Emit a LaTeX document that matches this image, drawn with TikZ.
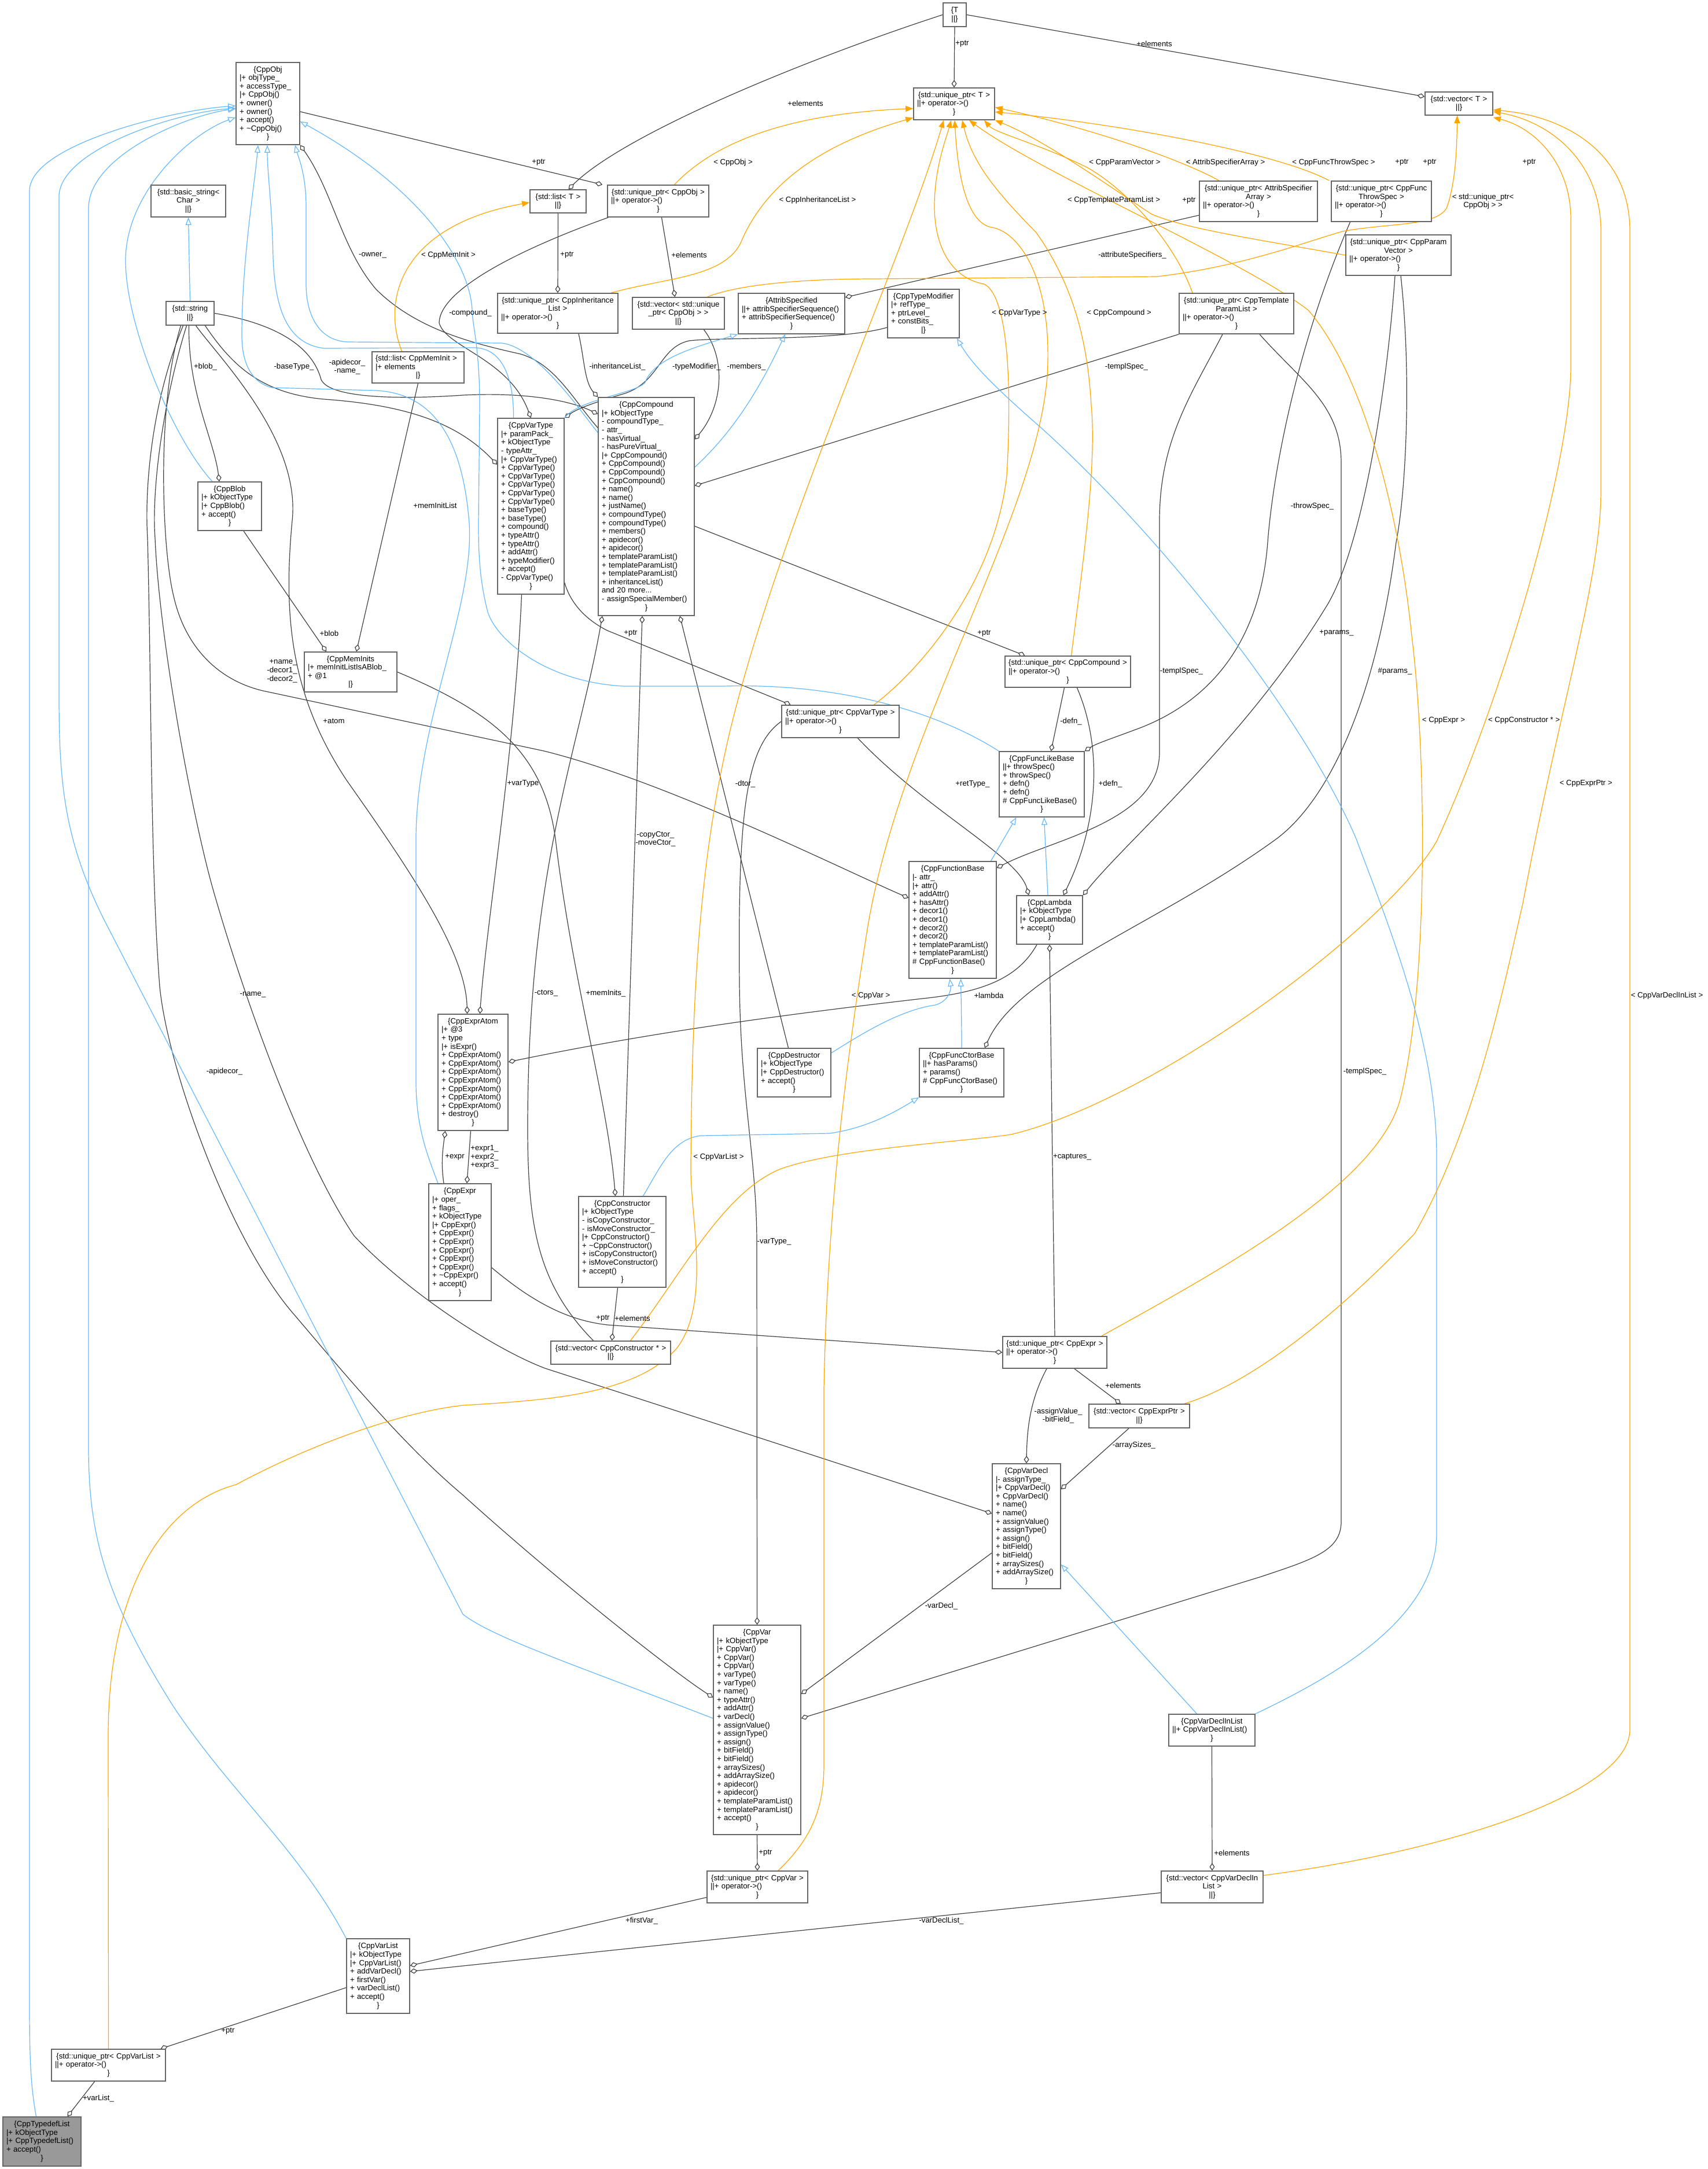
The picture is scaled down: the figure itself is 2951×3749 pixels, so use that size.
\documentclass[tikz,border=0pt]{standalone}
\usepackage{fontspec}
\setmainfont{Liberation Sans}
\usetikzlibrary{arrows.meta}
\definecolor{boxgray}{HTML}{666666}
\definecolor{edgeblk}{HTML}{404040}
\definecolor{inhblue}{HTML}{63B8FF}
\definecolor{tplorange}{HTML}{FFA500}
\definecolor{focusgray}{HTML}{999999}
\pgfdeclarelayer{back}\pgfdeclarelayer{edges}\pgfsetlayers{back,edges,main}
\newcommand{\mkc}[1]{\makebox[\hsize][c]{#1}}
\newcommand{\recnode}[7][white]{%
  \pgfmathsetmacro{\recW}{(#5-#3)*0.5}%
  \pgfmathsetmacro{\recH}{(#6-#4)*0.5}%
  \pgfmathsetmacro{\recT}{(#5-#3)*0.5-6}%
  \node[recbox,fill=#1,minimum width=\recW pt,minimum height=\recH pt,text width=\recT pt] (#2) at ({(#3+#5)/2},{(#4+#6)/2}) {#7};}
\tikzset{
  recbox/.style={draw=boxgray,line width=0.8pt,inner xsep=3pt,inner ysep=1pt,align=left,font=\fontsize{6.6}{7.3}\selectfont,anchor=center},
  lbl/.style={font=\fontsize{6.6}{7.3}\selectfont,inner sep=0pt,align=center,text=black},
  agg/.style={draw=edgeblk,line width=0.6pt,-{Diamond[open,length=6.5pt,width=4.5pt]}},
  inh/.style={draw=inhblue,line width=0.6pt,-{Triangle[open,length=6.5pt,width=5pt]}},
  tpl/.style={draw=tplorange,line width=0.6pt,-{Triangle[length=6.5pt,width=5pt]}}
}
\begin{document}
\begin{tikzpicture}[x=0.5pt,y=-0.5pt]
\begin{pgfonlayer}{back}
\fill[white] (0,0) rectangle (2951,3749);
\end{pgfonlayer}
\useasboundingbox (0,0) rectangle (2951,3749);

% ---------------- nodes ----------------
\recnode{obj}{408}{108}{518}{250}{\mkc{\{CppObj}\\|+ objType\_\\+ accessType\_\\|+ CppObj()\\+ owner()\\+ owner()\\+ accept()\\+ \textasciitilde CppObj()\\\mkc{\}}}
\recnode{bstr}{261}{320}{390}{375}{\mkc{\{std::basic\_string<}\\\mkc{Char >}\\\mkc{||\}}}
\recnode{str}{287}{521}{370}{562}{\mkc{\{std::string}\\\mkc{||\}}}
\recnode{listT}{916}{328}{1013}{368}{\mkc{\{std::list< T >}\\\mkc{||\}}}
\recnode{T}{1630}{5}{1670}{46}{\mkc{\{T}\\\mkc{||\}}}
\recnode{upT}{1579}{152}{1719}{207}{\mkc{\{std::unique\_ptr< T >}\\||+ operator->()\\\mkc{\}}}
\recnode{vecT}{2463}{159}{2580}{199}{\mkc{\{std::vector< T >}\\\mkc{||\}}}
\recnode{upObj}{1050}{320}{1225}{375}{\mkc{\{std::unique\_ptr< CppObj >}\\||+ operator->()\\\mkc{\}}}
\recnode{upCIL}{860}{507}{1068}{576}{\mkc{\{std::unique\_ptr< CppInheritance}\\\mkc{List >}\\||+ operator->()\\\mkc{\}}}
\recnode{vecUpObj}{1093}{514}{1252}{569}{\mkc{\{std::vector< std::unique}\\\mkc{\_ptr< CppObj > >}\\\mkc{||\}}}
\recnode{attr}{1276}{507}{1460}{577}{\mkc{\{AttribSpecified}\\||+ attribSpecifierSequence()\\+ attribSpecifierSequence()\\\mkc{\}}}
\recnode{tmod}{1534}{500}{1658}{584}{\mkc{\{CppTypeModifier}\\|+ refType\_\\+ ptrLevel\_\\+ constBits\_\\\mkc{|\}}}
\recnode{upASA}{2073}{313}{2277}{383}{\mkc{\{std::unique\_ptr< AttribSpecifier}\\\mkc{Array >}\\||+ operator->()\\\mkc{\}}}
\recnode{upCFTS}{2301}{313}{2474}{383}{\mkc{\{std::unique\_ptr< CppFunc}\\\mkc{ThrowSpec >}\\||+ operator->()\\\mkc{\}}}
\recnode{upCPV}{2326}{406}{2508}{476}{\mkc{\{std::unique\_ptr< CppParam}\\\mkc{Vector >}\\||+ operator->()\\\mkc{\}}}
\recnode{upCTPL}{2038}{507}{2236}{577}{\mkc{\{std::unique\_ptr< CppTemplate}\\\mkc{ParamList >}\\||+ operator->()\\\mkc{\}}}
\recnode{listMI}{643}{608}{802}{662}{\{std::list< CppMemInit >\\|+ elements\\\mkc{|\}}}
\recnode{vtype}{860}{723}{975}{1027}{\mkc{\{CppVarType}\\|+ paramPack\_\\+ kObjectType\\- typeAttr\_\\|+ CppVarType()\\+ CppVarType()\\+ CppVarType()\\+ CppVarType()\\+ CppVarType()\\+ CppVarType()\\+ baseType()\\+ baseType()\\+ compound()\\+ typeAttr()\\+ typeAttr()\\+ addAttr()\\+ typeModifier()\\+ accept()\\- CppVarType()\\\mkc{\}}}
\recnode{comp}{1034}{687}{1200}{1064}{\mkc{\{CppCompound}\\|+ kObjectType\\- compoundType\_\\- attr\_\\- hasVirtual\_\\- hasPureVirtual\_\\|+ CppCompound()\\+ CppCompound()\\+ CppCompound()\\+ CppCompound()\\+ name()\\+ name()\\+ justName()\\+ compoundType()\\+ compoundType()\\+ members()\\+ apidecor()\\+ apidecor()\\+ templateParamList()\\+ templateParamList()\\+ templateParamList()\\+ inheritanceList()\\and 20 more...\\- assignSpecialMember()\\\mkc{\}}}
\recnode{blob}{342}{833}{452}{917}{\mkc{\{CppBlob}\\|+ kObjectType\\|+ CppBlob()\\+ accept()\\\mkc{\}}}
\recnode{mi}{526}{1127}{686}{1196}{\mkc{\{CppMemInits}\\|+ memInitListIsABlob\_\\+ @1\\\mkc{|\}}}
\recnode{upComp}{1737}{1134}{1954}{1188}{\mkc{\{std::unique\_ptr< CppCompound >}\\||+ operator->()\\\mkc{\}}}
\recnode{upVT}{1351}{1219}{1554}{1275}{\mkc{\{std::unique\_ptr< CppVarType >}\\||+ operator->()\\\mkc{\}}}
\recnode{flb}{1727}{1299}{1874}{1412}{\mkc{\{CppFuncLikeBase}\\||+ throwSpec()\\+ throwSpec()\\+ defn()\\+ defn()\\\# CppFuncLikeBase()\\\mkc{\}}}
\recnode{fb}{1571}{1489}{1722}{1691}{\mkc{\{CppFunctionBase}\\|- attr\_\\|+ attr()\\+ addAttr()\\+ hasAttr()\\+ decor1()\\+ decor1()\\+ decor2()\\+ decor2()\\+ templateParamList()\\+ templateParamList()\\\# CppFunctionBase()\\\mkc{\}}}
\recnode{lam}{1757}{1548}{1871}{1632}{\mkc{\{CppLambda}\\|+ kObjectType\\|+ CppLambda()\\+ accept()\\\mkc{\}}}
\recnode{dtor}{1309}{1812}{1436}{1896}{\mkc{\{CppDestructor}\\|+ kObjectType\\|+ CppDestructor()\\+ accept()\\\mkc{\}}}
\recnode{fcb}{1589}{1812}{1735}{1896}{\mkc{\{CppFuncCtorBase}\\||+ hasParams()\\+ params()\\\# CppFuncCtorBase()\\\mkc{\}}}
\recnode{atom}{757}{1753}{878}{1954}{\mkc{\{CppExprAtom}\\|+ @3\\+ type\\|+ isExpr()\\+ CppExprAtom()\\+ CppExprAtom()\\+ CppExprAtom()\\+ CppExprAtom()\\+ CppExprAtom()\\+ CppExprAtom()\\+ CppExprAtom()\\+ destroy()\\\mkc{\}}}
\recnode{expr}{741}{2046}{849}{2248}{\mkc{\{CppExpr}\\|+ oper\_\\+ flags\_\\+ kObjectType\\|+ CppExpr()\\+ CppExpr()\\+ CppExpr()\\+ CppExpr()\\+ CppExpr()\\+ CppExpr()\\+ \textasciitilde CppExpr()\\+ accept()\\\mkc{\}}}
\recnode{ctor}{1000}{2068}{1151}{2225}{\mkc{\{CppConstructor}\\|+ kObjectType\\- isCopyConstructor\_\\- isMoveConstructor\_\\|+ CppConstructor()\\+ \textasciitilde CppConstructor()\\+ isCopyConstructor()\\+ isMoveConstructor()\\+ accept()\\\mkc{\}}}
\recnode{vecCtor}{952}{2318}{1159}{2358}{\mkc{\{std::vector< CppConstructor * >}\\\mkc{||\}}}
\recnode{upExpr}{1733}{2310}{1913}{2365}{\mkc{\{std::unique\_ptr< CppExpr >}\\||+ operator->()\\\mkc{\}}}
\recnode{vecEP}{1882}{2427}{2056}{2468}{\mkc{\{std::vector< CppExprPtr >}\\\mkc{||\}}}
\recnode{vdecl}{1715}{2530}{1833}{2746}{\mkc{\{CppVarDecl}\\|- assignType\_\\|+ CppVarDecl()\\+ CppVarDecl()\\+ name()\\+ name()\\+ assignValue()\\+ assignType()\\+ assign()\\+ bitField()\\+ bitField()\\+ arraySizes()\\+ addArraySize()\\\mkc{\}}}
\recnode{var}{1233}{2809}{1384}{3171}{\mkc{\{CppVar}\\|+ kObjectType\\|+ CppVar()\\+ CppVar()\\+ CppVar()\\+ varType()\\+ varType()\\+ name()\\+ typeAttr()\\+ addAttr()\\+ varDecl()\\+ assignValue()\\+ assignType()\\+ assign()\\+ bitField()\\+ bitField()\\+ arraySizes()\\+ addArraySize()\\+ apidecor()\\+ apidecor()\\+ templateParamList()\\+ templateParamList()\\+ accept()\\\mkc{\}}}
\recnode{vdil}{2020}{2963}{2169}{3018}{\mkc{\{CppVarDeclInList}\\||+ CppVarDeclInList()\\\mkc{\}}}
\recnode{upVar}{1222}{3234}{1396}{3289}{\mkc{\{std::unique\_ptr< CppVar >}\\||+ operator->()\\\mkc{\}}}
\recnode{vecVDIL}{2007}{3234}{2183}{3289}{\mkc{\{std::vector< CppVarDeclIn}\\\mkc{List >}\\\mkc{||\}}}
\recnode{vlist}{599}{3351}{708}{3480}{\mkc{\{CppVarList}\\|+ kObjectType\\|+ CppVarList()\\+ addVarDecl()\\+ firstVar()\\+ varDeclList()\\+ accept()\\\mkc{\}}}
\recnode{upVL}{89}{3542}{286}{3597}{\mkc{\{std::unique\_ptr< CppVarList >}\\||+ operator->()\\\mkc{\}}}
\recnode[focusgray]{tdl}{5}{3659}{140}{3744}{\mkc{\{CppTypedefList}\\|+ kObjectType\\|+ CppTypedefList()\\+ accept()\\\mkc{\}}}

% ---------------- edges ----------------
\begin{pgfonlayer}{edges}
% aggregation
\draw[agg] (T.south) -- (upT.north);
\draw[agg] (T.west) .. controls (1400,100) and (1080,230) .. ([xshift=9pt]listT.north);
\draw[agg] (T.east) -- ([yshift=6pt]vecT.west);
\draw[agg] ([yshift=-7pt]obj.east) -- ([xshift=-4pt]upObj.north west);
\draw[agg] (listT.south) -- (upCIL.north);
\draw[agg] ([xshift=3pt]upObj.south) -- ([xshift=-3pt]vecUpObj.north);
\draw[agg] ([yshift=-12pt]upASA.west) -- ([yshift=14pt]attr.east);
\draw[agg] (upCTPL.south west) -- ([yshift=18pt]comp.east);
\draw[agg] ([xshift=-12pt]upCTPL.south) .. controls (2060,680) and (2004,760) .. (2004,900) -- (2004,1300) .. controls (2004,1420) and (1820,1450) .. ([yshift=-6pt]fb.north east);
\draw[agg] ([xshift=20pt]upCTPL.south) .. controls (2250,660) and (2318,700) .. (2318,800) -- (2318,2630) .. controls (2318,2680) and (2270,2695) .. (2180,2725) -- ([yshift=10pt]var.east);
\draw[agg] ([xshift=-27pt]upCFTS.south) .. controls (2240,600) and (2200,820) .. (2191,937) .. controls (2175,1150) and (2050,1230) .. (1960,1262) .. controls (1920,1277) and (1895,1285) .. (flb.north east);
\draw[agg] ([xshift=-3pt]upCPV.south) .. controls (2395,700) and (2350,960) .. (2290,1052) .. controls (2150,1280) and (1950,1450) .. (lam.north east);
\draw[agg] ([xshift=2pt]upCPV.south) .. controls (2440,650) and (2430,850) .. (2413,937) .. controls (2380,1200) and (2300,1380) .. (2206,1450) .. controls (2000,1600) and (1760,1680) .. ([xshift=20pt]fcb.north);
\draw[agg] ([xshift=-3pt]upComp.south) -- ([xshift=8pt]flb.north);
\draw[agg] ([xshift=8pt]upComp.south) .. controls (1905,1290) and (1900,1420) .. ([xshift=12pt]lam.north);
\draw[agg] ([yshift=-17pt]comp.east) -- ([xshift=-37pt]upComp.north);
\draw[agg] ([yshift=-66pt]vtype.east) .. controls (985,1040) and (1010,1070) .. (1050,1090) -- ([xshift=-43pt]upVT.north);
\draw[agg] ([xshift=15pt]upVT.south) .. controls (1600,1400) and (1760,1480) .. ([xshift=-18pt]lam.north);
\draw[agg] (upVT.west) .. controls (1290,1290) and (1275,1400) .. (1278,1700) .. controls (1280,1900) and (1308,2000) .. (1308,2150) -- (var.north);
\draw[agg] ([xshift=-5pt]dtor.north) -- ([xshift=29pt]comp.south);
\draw[agg] ([xshift=1pt]ctor.north) -- ([xshift=-3.5pt]comp.south);
\draw[agg] ([xshift=-15pt]vecCtor.north) .. controls (930,2220) and (912,2120) .. (912,1950) .. controls (912,1500) and (1000,1300) .. ([xshift=-38pt]comp.south);
\draw[agg] ([xshift=-4pt]ctor.south) -- ([xshift=1pt]vecCtor.north);
\draw[agg] (mi.east) .. controls (850,1230) and (940,1300) .. (960,1450) .. controls (990,1700) and (1050,1900) .. ([xshift=-6pt]ctor.north);
\draw[agg] (listMI.south) -- ([xshift=5pt]mi.north);
\draw[agg] ([xshift=12pt]blob.south) -- ([xshift=-21pt]mi.north);
\draw[agg] ([xshift=-1pt]str.south) .. controls (325,680) and (370,760) .. ([xshift=-9pt]blob.north);
\draw[agg] ([xshift=13pt]str.south) .. controls (400,630) and (450,680) .. (560,690) .. controls (700,700) and (790,730) .. ([yshift=36pt]vtype.west);
\draw[agg] (str.east) .. controls (480,560) and (540,600) .. (555,656) .. controls (570,690) and (700,690) .. (800,683) .. controls (900,678) and (980,690) .. ([yshift=80pt]comp.west);
\draw[agg] ([xshift=18pt]upCIL.south) .. controls (1010,620) and (1010,660) .. (comp.north west);
\draw[agg] ([yshift=-12pt]tmod.west) .. controls (1450,590) and (1250,582) .. (1191,589) .. controls (1140,600) and (1140,660) .. (1080,680) .. controls (1030,695) and (1000,705) .. (vtype.north east);
\draw[agg] ([xshift=22pt]vecUpObj.south) .. controls (1255,620) and (1250,700) .. ([yshift=58pt]comp.east);
\draw[agg] ([yshift=68pt]comp.west) .. controls (990,690) and (960,630) .. (900,612) .. controls (820,594) and (720,570) .. (650,500) .. controls (590,430) and (575,330) .. (obj.south east);
\draw[agg] ([xshift=-43pt]upObj.south) .. controls (900,430) and (760,500) .. (759,558) .. controls (770,600) and (880,620) .. (vtype.north);
\draw[agg] ([xshift=5pt]str.south) .. controls (380,620) and (520,760) .. (505,900) .. controls (490,1060) and (500,1200) .. (600,1350) .. controls (720,1520) and (805,1650) .. ([xshift=-5pt]atom.north);
\draw[agg] ([xshift=-8pt]vtype.south) .. controls (890,1300) and (840,1600) .. ([xshift=6pt]atom.north);
\draw[agg] ([xshift=-8pt]str.south) .. controls (270,700) and (280,950) .. (300,1030) .. controls (320,1120) and (380,1180) .. (464,1196) -- (940,1298) .. controls (1150,1350) and (1450,1500) .. ([yshift=19pt]fb.west);
\draw[agg] ([xshift=-3pt]str.south) .. controls (280,700) and (262,850) .. (268,930) .. controls (275,1100) and (330,1400) .. (367,1533) .. controls (420,1720) and (520,2000) .. (612,2136) .. controls (700,2230) and (850,2330) .. (942,2365) .. controls (1050,2400) and (1150,2432) .. ([yshift=11pt]vdecl.west);
\draw[agg] ([xshift=-6pt]str.south) .. controls (260,700) and (250,850) .. (255,930) .. controls (262,1200) and (260,1500) .. (276,1705) .. controls (290,1850) and (400,2150) .. (510,2274) .. controls (600,2380) and (700,2500) .. (800,2584) .. controls (950,2720) and (1150,2880) .. ([yshift=28pt]var.west);
\draw[agg] ([xshift=-7pt]upExpr.south) .. controls (1780,2420) and (1775,2470) .. (vdecl.north);
\draw[agg] ([xshift=17pt]upExpr.south) -- ([xshift=-16pt]vecEP.north);
\draw[agg] ([xshift=-9pt]vecEP.south) -- ([yshift=32pt]vdecl.east);
\draw[agg] ([yshift=-23pt]vdecl.west) -- ([yshift=31pt]var.east);
\draw[agg] (var.south) -- (upVar.north);
\draw[agg] (vdil.south) -- (vecVDIL.north);
\draw[agg] ([yshift=-9pt]upVar.west) -- ([yshift=9pt]vlist.east);
\draw[agg] ([yshift=-5pt]vecVDIL.west) -- ([yshift=4pt]vlist.east);
\draw[agg] ([yshift=-10pt]vlist.west) -- ([xshift=45pt]upVL.north);
\draw[agg] ([xshift=-12pt]upVL.south) -- ([xshift=22pt]tdl.north);
\draw[agg] ([xshift=-11pt]lam.south) .. controls (1760,1690) and (1700,1715) .. (1594,1726) .. controls (1300,1760) and (1100,1790) .. ([yshift=9pt]atom.east);
\draw[agg] (upExpr.north) -- (lam.south);
\draw[agg] ([yshift=-22pt]expr.east) .. controls (920,2250) and (980,2282) .. (1050,2290) -- (upExpr.west);
\draw[agg] ([xshift=-14pt]expr.north) .. controls (762,2010) and (765,1990) .. ([xshift=-24pt]atom.south);
\draw[agg] ([xshift=-2pt]atom.south) -- ([xshift=6pt]expr.north);
% inheritance
\draw[inh] (str.north) -- (bstr.south);
\draw[inh] ([xshift=-5pt]tdl.north) .. controls (52,3600) and (51,3550) .. (51,3450) -- (51,330) .. controls (51,250) and (300,190) .. ([yshift=-2pt]obj.west);
\draw[inh] ([yshift=10pt]var.west) .. controls (1000,2880) and (850,2830) .. (800,2790) -- (180,1590) .. controls (110,1450) and (102,1350) .. (102,1200) -- (102,340) .. controls (102,260) and (300,195) .. ([yshift=-4pt]obj.west);
\draw[inh] (vlist.north west) .. controls (520,3200) and (400,3100) .. (300,2950) .. controls (180,2760) and (153,2650) .. (153,2500) -- (153,360) .. controls (153,270) and (320,200) .. ([yshift=-4.5pt]obj.west);
\draw[inh] ([xshift=-15pt]blob.north) .. controls (300,760) and (215,560) .. (217,446) .. controls (220,330) and (330,230) .. ([yshift=-12pt]obj.west);
\draw[inh] ([xshift=-15pt]vtype.north) .. controls (888,680) and (880,602) .. (820,601) -- (560,602) .. controls (490,594) and (475,520) .. (472,446) .. controls (470,350) and (462,300) .. ([xshift=-0.5pt]obj.south);
\draw[inh] ([xshift=-19pt]expr.north) .. controls (740,2000) and (719,1950) .. (719,1870) -- (719,1450) .. controls (719,1250) and (820,1050) .. (811,905) .. controls (800,760) and (750,680) .. (650,675) -- (470,670) .. controls (430,660) and (418,620) .. (418,580) .. controls (418,450) and (440,320) .. ([xshift=-8.5pt]obj.south);
\draw[inh] (flb.north west) .. controls (1620,1230) and (1450,1180) .. (1250,1186) -- (1079,1186) .. controls (950,1180) and (860,1110) .. (843,1058) .. controls (828,1000) and (827,950) .. (827,905) -- (829,700) .. controls (829,600) and (816,560) .. (816,536) .. controls (812,450) and (720,320) .. ([yshift=-15.5pt]obj.east);
\draw[inh] ([yshift=64pt]comp.west) .. controls (1010,720) and (930,600) .. (867,593) -- (600,591) .. controls (548,588) and (529,540) .. (529,491) -- (529,357) .. controls (529,300) and (515,270) .. ([xshift=23.5pt]obj.south);
\draw[inh] ([yshift=34pt]comp.east) .. controls (1250,762) and (1300,700) .. ([xshift=-5.5pt]attr.south);
\draw[inh] (vtype.north east) .. controls (1000,690) and (1100,680) .. (1115,661) .. controls (1130,620) and (1200,600) .. (attr.south west);
\draw[inh] ([xshift=33pt]fb.north) -- ([xshift=-22pt]flb.south);
\draw[inh] ([xshift=-1.5pt]lam.north) -- ([xshift=2pt]flb.south);
\draw[inh] ([yshift=17pt]dtor.east) .. controls (1500,1780) and (1560,1745) .. (1617,1737) .. controls (1640,1730) and (1644,1710) .. ([xshift=-2.5pt]fb.south);
\draw[inh] (fcb.north) .. controls (1662,1760) and (1661,1720) .. ([xshift=7pt]fb.south);
\draw[inh] ([xshift=18pt]ctor.north) .. controls (1140,2020) and (1160,1970) .. (1210,1963) -- (1433,1959) .. controls (1500,1950) and (1550,1920) .. (fcb.south west);
\draw[inh] ([xshift=-13pt]vdil.north) -- ([yshift=-33pt]vdecl.east);
\draw[inh] (vdil.north east) .. controls (2300,2900) and (2483,2800) .. (2483,2650) -- (2483,2000) .. controls (2483,1800) and (2400,1600) .. (2344,1450) .. controls (2250,1230) and (2000,920) .. (1800,740) .. controls (1720,670) and (1680,630) .. ([xshift=29pt]tmod.south);
% template instances
\draw[tpl] ([xshift=14pt]upObj.north) .. controls (1250,230) and (1400,195) .. ([yshift=-4pt]upT.west);
\draw[tpl] ([xshift=46pt]upCIL.north) .. controls (1150,480) and (1250,480) .. (1280,420) .. controls (1330,300) and (1450,240) .. ([yshift=-12pt]upT.west);
\draw[tpl] ([xshift=25pt]vecUpObj.north) .. controls (1280,490) and (1400,482) .. (1510,482) -- (2000,478) .. controls (2150,460) and (2250,420) .. (2320,400) .. controls (2400,385) and (2480,392) .. (2500,360) .. controls (2515,320) and (2518,260) .. ([xshift=-1.5pt]vecT.south);
\draw[tpl] ([xshift=-14pt]listMI.north) .. controls (660,520) and (690,390) .. ([yshift=-1pt]listT.west);
\draw[tpl] ([xshift=-34pt]upASA.north) .. controls (2050,280) and (1900,225) .. ([yshift=-3pt]upT.east);
\draw[tpl] ([xshift=-45pt]upCFTS.north) .. controls (2200,260) and (1900,210) .. ([yshift=-7pt]upT.east);
\draw[tpl] (upCPV.west) .. controls (2150,410) and (2050,395) .. (1990,370) .. controls (1900,310) and (1800,240) .. (upT.south east);
\draw[tpl] ([xshift=-38pt]upCTPL.north) .. controls (2030,420) and (1950,330) .. (1880,290) .. controls (1800,250) and (1720,230) .. ([xshift=26pt]upT.south);
\draw[tpl] ([xshift=29pt]upVT.north) .. controls (1600,1150) and (1720,1000) .. (1740,822) .. controls (1750,650) and (1740,510) .. (1701,491) .. controls (1640,480) and (1615,420) .. (1615,357) .. controls (1615,290) and (1635,240) .. ([xshift=-2.5pt]upT.south);
\draw[tpl] ([xshift=3pt]upComp.north) .. controls (1875,950) and (1895,800) .. (1886,700) .. controls (1880,600) and (1860,500) .. (1791,402) .. controls (1720,330) and (1680,280) .. ([xshift=7pt]upT.south);
\draw[tpl] ([xshift=18pt]upVar.north) .. controls (1400,3180) and (1424,3130) .. (1424,3050) -- (1424,2400) .. controls (1430,2100) and (1460,1850) .. (1500,1600) .. controls (1560,1250) and (1790,900) .. (1810,650) .. controls (1820,480) and (1760,400) .. (1714,393) .. controls (1670,385) and (1655,300) .. ([xshift=0.5pt]upT.south);
\draw[tpl] (upVL.north) -- (187,3000) .. controls (187,2750) and (280,2600) .. (408,2566) .. controls (550,2490) and (700,2440) .. (800,2429) .. controls (950,2420) and (1100,2410) .. (1170,2330) .. controls (1230,2250) and (1192,2100) .. (1194,2012) .. controls (1196,1750) and (1205,1500) .. (1262,1262) .. controls (1350,900) and (1560,450) .. ([xshift=-9pt]upT.south);
\draw[tpl] ([xshift=-5pt]upExpr.north east) .. controls (2100,2200) and (2380,2050) .. (2420,1900) .. controls (2470,1700) and (2465,1300) .. (2440,1100) .. controls (2420,900) and (2360,650) .. (2261,536) .. controls (2150,450) and (1800,300) .. ([xshift=13pt]upT.south);
\draw[tpl] ([xshift=17pt]vecCtor.north) .. controls (1180,2200) and (1250,2060) .. (1350,2020) .. controls (1450,1985) and (1650,1975) .. (1747,1961) .. controls (2000,1900) and (2400,1600) .. (2483,1454) .. controls (2600,1200) and (2715,800) .. (2715,632) -- (2715,380) .. controls (2715,280) and (2650,220) .. ([yshift=-12pt]vecT.east);
\draw[tpl] ([xshift=39pt]vecEP.north) .. controls (2200,2380) and (2380,2200) .. (2445,2132) .. controls (2550,1950) and (2600,1700) .. (2632,1561) .. controls (2700,1200) and (2767,1000) .. (2767,846) -- (2767,400) .. controls (2767,280) and (2680,210) .. ([yshift=-7pt]vecT.east);
\draw[tpl] ([yshift=10pt]vecVDIL.east) .. controls (2500,3200) and (2817,3100) .. (2817,2989) -- (2817,400) .. controls (2817,260) and (2700,200) .. ([yshift=-5.5pt]vecT.east);
\end{pgfonlayer}

% ---------------- labels ----------------
\node[lbl] (l1) at (1663,76) {+ptr};
\node[lbl] (l2) at (1392,179) {+elements};
\node[lbl] (l3) at (1995,76) {+elements};
\node[lbl] (l4) at (931,281) {+ptr};
\node[lbl] (l5) at (1267,281) {< CppObj >};
\node[lbl] (l6) at (1413,346) {< CppInheritanceList >};
\node[lbl] (l7) at (1191,441) {+elements};
\node[lbl] (l8) at (775,441) {< CppMemInit >};
\node[lbl] (l9) at (980,441) {+ptr};
\node[lbl] (l10) at (644,441) {-owner\_};
\node[lbl] (l11) at (813,541) {-compound\_};
\node[lbl] (l12) at (1944,281) {< CppParamVector >};
\node[lbl] (l13) at (2118,281) {< AttribSpecifierArray >};
\node[lbl] (l14) at (2305,281) {< CppFuncThrowSpec >};
\node[lbl] (l15) at (2423,281) {+ptr};
\node[lbl] (l16) at (2471,281) {+ptr};
\node[lbl] (l17) at (2643,281) {+ptr};
\node[lbl] (l18) at (2055,347) {+ptr};
\node[lbl] (l19) at (1925,346) {< CppTemplateParamList >};
\node[lbl] (l20) at (2563,348) {< std::unique\_ptr<\\CppObj > >};
\node[lbl] (l21) at (1957,441) {-attributeSpecifiers\_};
\node[lbl] (l22) at (1762,541) {< CppVarType >};
\node[lbl] (l23) at (1934,541) {< CppCompound >};
\node[lbl] (l24) at (1067,634) {-inheritanceList\_};
\node[lbl] (l25) at (1204,634) {-typeModifier\_};
\node[lbl] (l26) at (1290,634) {-members\_};
\node[lbl] (l27) at (1947,634) {-templSpec\_};
\node[lbl] (l28) at (355,634) {+blob\_};
\node[lbl] (l29) at (508,634) {-baseType\_};
\node[lbl] (l30) at (600,634) {-apidecor\_\\-name\_};
\node[lbl] (l31) at (752,874) {+memInitList};
\node[lbl] (l32) at (2268,875) {-throwSpec\_};
\node[lbl] (l33) at (569,1095) {+blob};
\node[lbl] (l34) at (1090,1095) {+ptr};
\node[lbl] (l35) at (1701,1095) {+ptr};
\node[lbl] (l36) at (2310,1094) {+params\_};
\node[lbl,align=right,anchor=east] (l37) at (514,1160) {+name\_\\-decor1\_\\-decor2\_};
\node[lbl] (l38) at (2042,1160) {-templSpec\_};
\node[lbl] (l39) at (2411,1160) {\#params\_};
\node[lbl] (l40) at (577,1246) {+atom};
\node[lbl] (l41) at (1851,1247) {-defn\_};
\node[lbl] (l42) at (1288,1355) {-dtor\_};
\node[lbl] (l43) at (1681,1355) {+retType\_};
\node[lbl] (l44) at (1919,1355) {+defn\_};
\node[lbl] (l45) at (904,1354) {+varType};
\node[lbl] (l46) at (1133,1450) {-copyCtor\_\\-moveCtor\_};
\node[lbl] (l47) at (1505,1721) {< CppVar >};
\node[lbl] (l48) at (1709,1721) {+lambda};
\node[lbl] (l49) at (944,1717) {-ctors\_};
\node[lbl] (l50) at (1047,1717) {+memInits\_};
\node[lbl] (l51) at (437,1719) {-name\_};
\node[lbl] (l52) at (2359,1852) {-templSpec\_};
\node[lbl] (l53) at (388,1852) {-apidecor\_};
\node[lbl] (l54) at (786,2000) {+expr};
\node[lbl,align=left,anchor=west] (l55) at (813,2000) {+expr1\_\\+expr2\_\\+expr3\_};
\node[lbl] (l56) at (1242,2000) {< CppVarList >};
\node[lbl] (l57) at (1853,2000) {+captures\_};
\node[lbl] (l58) at (1338,2146) {-varType\_};
\node[lbl] (l59) at (2495,1245) {< CppExpr >};
\node[lbl] (l60) at (2634,1245) {< CppConstructor * >};
\node[lbl] (l61) at (2741,1354) {< CppExprPtr >};
\node[lbl] (l62) at (2881,1721) {< CppVarDeclInList >};
\node[lbl] (l63) at (1042,2279) {+ptr};
\node[lbl] (l64) at (1093,2279) {+elements};
\node[lbl] (l65) at (1941,2395) {+elements};
\node[lbl] (l66) at (1829,2447) {-assignValue\_\\-bitField\_};
\node[lbl] (l67) at (1960,2498) {-arraySizes\_};
\node[lbl] (l68) at (1627,2776) {-varDecl\_};
\node[lbl] (l69) at (1323,3203) {+ptr};
\node[lbl] (l70) at (2129,3203) {+elements};
\node[lbl] (l71) at (1109,3320) {+firstVar\_};
\node[lbl] (l72) at (1627,3320) {-varDeclList\_};
\node[lbl] (l73) at (394,3511) {+ptr};
\node[lbl] (l74) at (170,3627) {+varList\_};
\end{tikzpicture}
\end{document}
